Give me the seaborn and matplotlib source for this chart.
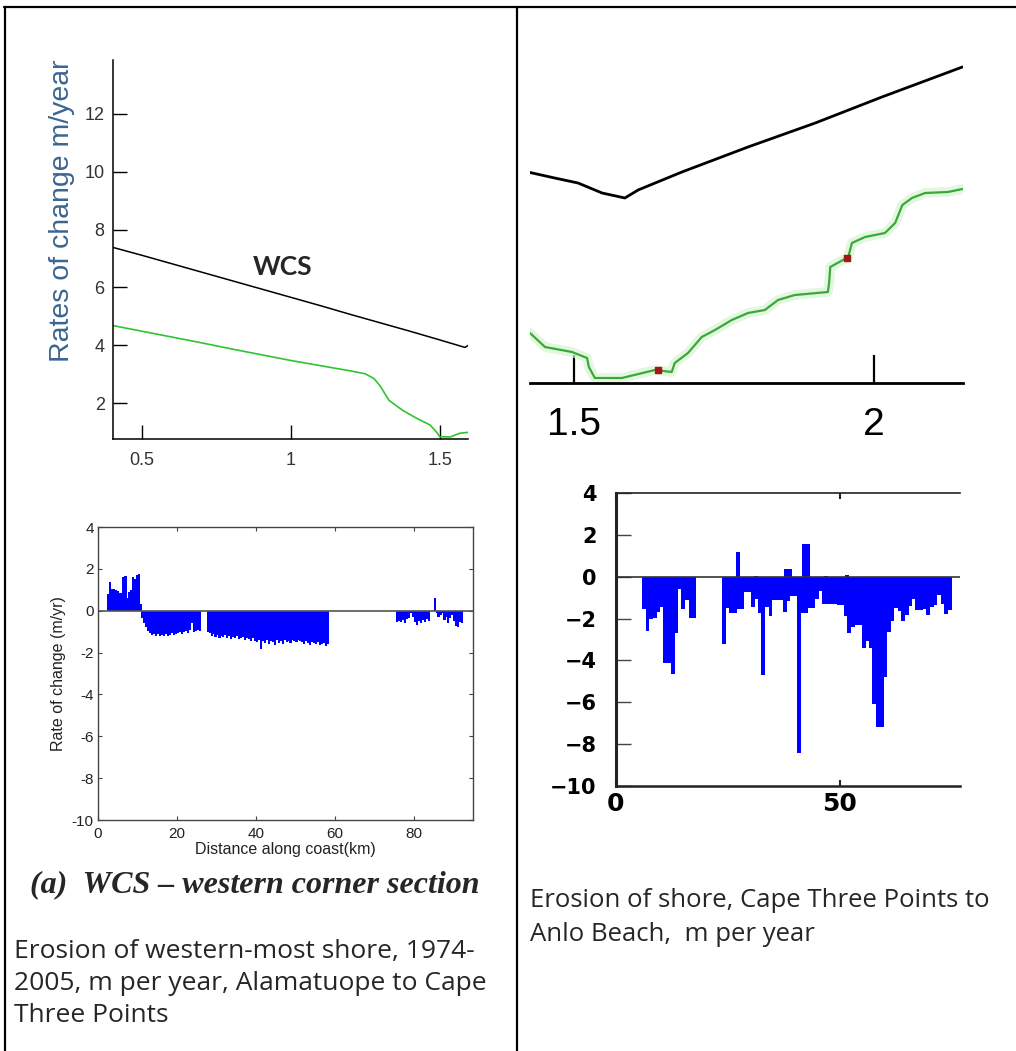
import numpy as np
import pandas as pd
import matplotlib
matplotlib.use("Agg")
import matplotlib.pyplot as plt
from matplotlib.lines import Line2D
import seaborn as sns

# ---- top left: WCS rates of change (m/year) along section
wcs_black_x = [0.40, 0.5, 0.6, 0.7, 0.8, 0.9, 1.0, 1.1, 1.2, 1.3, 1.4, 1.5, 1.585, 1.595]
wcs_black_y = [7.39, 7.11, 6.82, 6.53, 6.24, 5.95, 5.66, 5.37, 5.07, 4.78, 4.49, 4.19, 3.93, 4.0]
wcs_green_x = [0.40, 0.5, 0.6, 0.7, 0.8, 0.9, 1.0, 1.1, 1.2, 1.25, 1.28, 1.30, 1.33, 1.35,
               1.377, 1.42, 1.468, 1.49, 1.5, 1.535, 1.568, 1.595]
wcs_green_y = [4.69, 4.49, 4.29, 4.09, 3.88, 3.68, 3.48, 3.30, 3.12, 3.02, 2.85, 2.6, 2.1, 1.95,
               1.75, 1.5, 1.25, 1.0, 0.85, 0.84, 0.97, 1.0]

# ---- top right: zoomed section (no y scale shown)
zoom_black_x = [1.427, 1.468, 1.507, 1.547, 1.585, 1.607, 1.68, 1.79, 1.902, 2.013, 2.147]
zoom_black_y = [4.21, 4.1, 4.0, 3.8, 3.7, 3.86, 4.22, 4.72, 5.2, 5.72, 6.32]
zoom_green_x = [1.427, 1.452, 1.497, 1.522, 1.525, 1.535, 1.58, 1.635, 1.663, 1.668, 1.69, 1.713,
                1.735, 1.763, 1.79, 1.818, 1.84, 1.868, 1.923, 1.925, 1.927, 1.957, 1.963,
                1.985, 2.018, 2.035, 2.047, 2.063, 2.085, 2.123, 2.147]
zoom_green_y = [1.0, 0.72, 0.62, 0.5, 0.32, 0.1, 0.1, 0.26, 0.22, 0.4, 0.6, 0.92,
                1.06, 1.26, 1.4, 1.46, 1.66, 1.76, 1.82, 2.0, 2.32, 2.52, 2.8,
                2.92, 3.0, 3.2, 3.56, 3.7, 3.8, 3.82, 3.88]
zoom_red_x = [1.64, 1.955]
zoom_red_y = [0.27, 2.5]

# ---- bottom left: rate of change (m/yr) vs distance along coast (km), 0.5 km bins
wcs_step = 0.5
wcs_sections = [
    (2.2, [0.8, 1.35, 1.05, 1.05, 1.0, 0.95, 0.85, 0.85, 1.6, 1.65, 0.6, 0.9, 1.0, 1.6,
           1.5, 1.7, 1.75, 0.3]),
    (11.0, [-0.35, -0.6, -0.8, -0.95, -1.05, -1.15, -1.1, -1.2, -1.1, -1.2, -1.15, -1.2,
            -1.1, -1.2, -1.15, -1.05, -1.15, -1.1, -1.05, -1.0, -1.1, -1.0, -0.95, -1.05,
            -0.9, -0.6, -1.0, -0.95, -0.9, -0.95]),
    (27.5, [-1.0, -1.05, -1.2, -1.1, -1.25, -1.15, -1.3, -1.2, -1.25, -1.15, -1.3, -1.2,
            -1.35, -1.25, -1.3, -1.2, -1.35, -1.3, -1.25, -1.4, -1.3, -1.35, -1.45, -1.3,
            -1.45, -1.5, -1.4, -1.85, -1.45, -1.55, -1.4, -1.6, -1.45, -1.5, -1.65, -1.4,
            -1.55, -1.45, -1.6, -1.4, -1.5, -1.45, -1.55, -1.4, -1.45, -1.5, -1.4, -1.45,
            -1.5, -1.6, -1.45, -1.55, -1.65, -1.5, -1.55, -1.6, -1.5, -1.65, -1.6, -1.55,
            -1.7, -1.6]),
    (75.5, [-0.55, -0.5, -0.55, -0.45, -0.6, -0.4, -0.35, -0.1, -0.3, -0.55, -0.7, -0.5,
            -0.6, -0.45, -0.55, -0.4, -0.5]),
    (85.0, [0.6, -0.1, -0.3, -0.2, -0.1, -0.45, -0.3, -0.6, -0.35, -0.2, -0.5, -0.75,
            -0.8, -0.55, -0.6]),
]
wcs_xticks = [0, 20, 40, 60, 80]
wcs_yticks = [4, 2, 0, -2, -4, -6, -8, -10]

# ---- bottom right: Cape Three Points to Anlo Beach, 0.8 km bins
ctp_step = 0.8
ctp_sections = [
    (5.8, [-1.55, -2.6, -2.0, -1.95, -1.7, -1.45, -4.1, -4.1, -4.65, -2.7, -0.6, -1.55,
           -1.1, -1.95, -1.95]),
    (23.66, [-3.2, -1.5, -1.75, -1.75, -1.55, -1.55, -0.75, -0.75, -1.45, -1.05, -1.75,
             -4.7, -1.45, -1.9, -1.1, -1.1, -1.1, -1.7, -1.15, -0.9, -0.9, -8.4, -1.75,
             -1.75, -1.5, -1.5, -1.05, -0.7, -1.3, -1.3, -1.3, -1.3, -1.35, -1.35, -1.9,
             -2.7, -2.4, -2.3, -2.3, -3.4, -3.05, -3.4, -6.1, -7.2, -7.2, -4.8, -2.65,
             -2.1, -1.5, -1.65, -2.1, -1.85, -1.4, -1.05, -1.6, -1.6, -1.55, -1.85, -1.45,
             -1.35, -0.85, -1.3, -1.8, -1.6]),
]
ctp_accretion_x = [26.8, 30.8, 37.6, 38.4, 41.6, 42.4, 46.5, 51.1]
ctp_accretion_y = [1.2, 0.05, 0.35, 0.35, 1.55, 1.55, 0.05, 0.07]
ctp_xticks = [0, 50]
ctp_yticks = [4, 2, 0, -2, -4, -6, -8, -10]

caption_a = "(a)  WCS \u2013 western corner section"
caption_left = "Erosion of western-most shore, 1974-\n2005, m per year, Alamatuope to Cape\nThree Points"
caption_right = "Erosion of shore, Cape Three Points to\nAnlo Beach,  m per year"

sns.set_theme(style="ticks")
plt.rcParams["font.family"] = ["Liberation Sans", "DejaVu Sans"]

W, H = 1016, 1051
BLUE = "#0000ff"
fig = plt.figure(figsize=(W / 100, H / 100), dpi=100)


def rect(x0, y0, x1, y1):
    return [x0 / W, 1 - y1 / H, (x1 - x0) / W, (y1 - y0) / H]


def bars(ax, sections, step):
    # bars slightly wider than the bin so neighbours merge without seams
    for start, vals in sections:
        df = pd.DataFrame({"x": start + step * np.arange(len(vals)), "v": vals})
        ax.bar(df["x"], df["v"], width=step * 1.08, align="edge", color=BLUE, linewidth=0,
               antialiased=False)


# table frame
for xs, ys in [([4, W], [7, 7]), ([5, 5], [7, H]), ([517, 517], [7, H])]:
    fig.add_artist(Line2D([x / W for x in xs], [1 - y / H for y in ys],
                          transform=fig.transFigure, color="black", lw=1.6))

# 1. top left
ax1 = fig.add_axes(rect(113, 60, 468, 439))
sns.lineplot(x=wcs_black_x, y=wcs_black_y, ax=ax1, color="black", lw=1.1, sort=False, estimator=None)
sns.lineplot(x=wcs_green_x, y=wcs_green_y, ax=ax1, color="#2fc42f", lw=1.2, sort=False, estimator=None)
ax1.set_xlim(0.403, 1.595)
ax1.set_ylim(0.77, 13.85)
ax1.set_xticks([0.5, 1, 1.5])
ax1.set_xticklabels(["0.5", "1", "1.5"])
ax1.set_yticks([2, 4, 6, 8, 10, 12])
ax1.set_yticklabels(["2", "4", "6", "8", "10", "12"])
sns.despine(ax=ax1)
for s in ["left", "bottom"]:
    ax1.spines[s].set_color("black")
    ax1.spines[s].set_linewidth(1.1)
ax1.tick_params(direction="in", length=10, width=1, colors="black", labelcolor="#333333",
                labelsize=13, bottom=True, left=True)
ax1.tick_params(axis="x", pad=9)
ax1.tick_params(axis="y", pad=6)
ax1.text(0.973, 6.69, "WCS", ha="center", va="center", fontsize=19, fontweight="bold",
         family=["Lato", "DejaVu Sans"])
fig.text(62 / W, 1 - 211 / H, "Rates of change m/year", rotation=90, ha="center", va="center",
         fontsize=20.5, color="#3b6592")

# 2. top right
ax2 = fig.add_axes(rect(530, 33, 963, 383))
sns.lineplot(x=zoom_green_x, y=zoom_green_y, ax=ax2, color="#d6f5cf", lw=7, sort=False,
             estimator=None, alpha=0.7)
sns.lineplot(x=zoom_black_x, y=zoom_black_y, ax=ax2, color="black", lw=2.0, sort=False, estimator=None)
sns.lineplot(x=zoom_green_x, y=zoom_green_y, ax=ax2, color="#3aa83a", lw=1.6, sort=False, estimator=None)
ax2.scatter(zoom_red_x, zoom_red_y, color="#a01818", s=14, marker="s", zorder=5)
ax2.set_xlim(1.427, 2.148)
ax2.set_ylim(0, 7)
ax2.set_xticks([1.5, 2])
ax2.set_xticklabels(["1.5", "2"])
ax2.set_yticks([])
sns.despine(ax=ax2, left=True)
ax2.spines["bottom"].set_color("black")
ax2.spines["bottom"].set_linewidth(2)
ax2.tick_params(axis="x", direction="in", length=20, width=1.6, colors="black",
                labelsize=28, pad=17, bottom=True)

# 3. bottom left
ax3 = fig.add_axes(rect(98, 527, 473, 820))
bars(ax3, wcs_sections, wcs_step)
ax3.axhline(0, color="#555555", lw=1.2)
ax3.set_xlim(0, 95)
ax3.set_ylim(-10, 4)
ax3.set_xticks(wcs_xticks)
ax3.set_xticklabels([str(t) for t in wcs_xticks])
ax3.set_yticks(wcs_yticks)
ax3.set_yticklabels([str(t) for t in wcs_yticks])
for s in ax3.spines.values():
    s.set_color("#444444")
    s.set_linewidth(1.0)
ax3.tick_params(direction="in", length=3, width=0.8, top=True, right=True, bottom=True,
                left=True, colors="#444444", labelcolor="#222222", labelsize=11)
ax3.tick_params(axis="y", pad=3)
ax3.tick_params(axis="x", pad=5)
ax3.set_xlabel("Distance along coast(km)", fontsize=11.5, color="#222222", labelpad=1)
ax3.set_ylabel("Rate of change (m/yr)", fontsize=11.5, color="#222222", labelpad=4)

# 4. bottom right
ax4 = fig.add_axes(rect(616, 493, 960, 786))
bars(ax4, ctp_sections, ctp_step)
ax4.bar(ctp_accretion_x, ctp_accretion_y, width=ctp_step * 1.08, align="edge", color=BLUE,
        linewidth=0, antialiased=False)
ax4.axhline(0, color="#333333", lw=1.2)
ax4.set_xlim(0, 76.8)
ax4.set_ylim(-10, 4)
ax4.set_xticks(ctp_xticks)
ax4.set_xticklabels([str(t) for t in ctp_xticks])
ax4.set_yticks(ctp_yticks)
ax4.set_yticklabels([str(t).replace("-", "\u2212") for t in ctp_yticks])
ax4.spines["right"].set_visible(False)
ax4.spines["left"].set_linewidth(2.2)
ax4.spines["bottom"].set_linewidth(1.8)
ax4.spines["top"].set_linewidth(1.2)
for s in ["left", "bottom", "top"]:
    ax4.spines[s].set_color("#222222")
ax4.tick_params(axis="y", direction="in", length=11, width=1, colors="#444444",
                labelcolor="black", pad=14, left=True, right=False)
ax4.tick_params(axis="x", direction="in", length=4, width=1.5, top=True, bottom=True,
                colors="#222222", labelcolor="black", pad=4)
for lab in ax4.get_yticklabels():
    lab.set_fontsize(15)
    lab.set_fontweight("bold")
    lab.set_family(["DejaVu Sans"])
for lab in ax4.get_xticklabels():
    lab.set_fontsize(18)
    lab.set_fontweight("bold")
    lab.set_family(["DejaVu Sans"])

# captions
fig.text(30 / W, 1 - 885 / H, caption_a, ha="left", va="center", fontsize=23,
         style="italic", fontweight="bold", family=["Liberation Serif", "DejaVu Serif"])
fig.text(14 / W, 1 - 939 / H, caption_left, ha="left", va="top", fontsize=19,
         family=["Open Sans", "DejaVu Sans"], linespacing=1.36)
fig.text(530 / W, 1 - 888 / H, caption_right, ha="left", va="top", fontsize=18.5,
         family=["Open Sans", "DejaVu Sans"], linespacing=1.45)

fig.savefig("out.png", dpi=100, facecolor="white")
